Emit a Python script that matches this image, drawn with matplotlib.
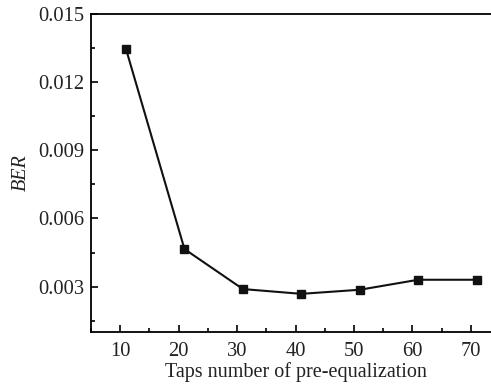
import matplotlib
matplotlib.use("Agg")
import matplotlib.pyplot as plt
from matplotlib.ticker import MultipleLocator

taps = [11, 21, 31, 41, 51, 61, 71]
ber = [0.01345, 0.00465, 0.00289, 0.00268, 0.00286, 0.0033, 0.0033]
xticks = [10, 20, 30, 40, 50, 60, 70]
yticks = [0.003, 0.006, 0.009, 0.012, 0.015]

plt.rcParams['font.family'] = ['Liberation Serif', 'DejaVu Serif']
fig = plt.figure(figsize=(4.91, 3.85), dpi=100)
left, bottom, top = 91/491, 53/385, 371/385
right = 500/491
ax = fig.add_axes([left, bottom, right-left, top-bottom])
ax.plot(taps, ber, color='#111111', lw=1.5, marker='s', markersize=5.5,
        markerfacecolor='#111111', markeredgecolor='#111111')
ax.set_xlim(5, 75)
ax.set_ylim(0.001, 0.015)
ax.set_xticks(xticks)
ax.set_yticks(yticks)
ax.set_yticklabels([f"{v:.3f}" for v in yticks])
ax.xaxis.set_minor_locator(MultipleLocator(5))
ax.yaxis.set_minor_locator(MultipleLocator(0.0015))
ax.tick_params(which='both', direction='in', labelsize=14.8, width=1.2,
               labelcolor='#222222')
ax.tick_params(which='major', length=5)
ax.tick_params(which='minor', length=3)
ax.tick_params(axis='x', which='both', top=False, pad=7)
ax.tick_params(axis='y', which='both', right=False, pad=5)
for s in ['left', 'bottom', 'top']:
    ax.spines[s].set_linewidth(1.3)
ax.spines['right'].set_visible(False)
ax.set_xlabel('Taps number of pre-equalization', fontsize=14.5, labelpad=1,
              color='#222222')
ax.set_ylabel('BER', fontsize=14.5, style='italic', labelpad=5, color='#222222')
fig.savefig('out.png', dpi=100)
